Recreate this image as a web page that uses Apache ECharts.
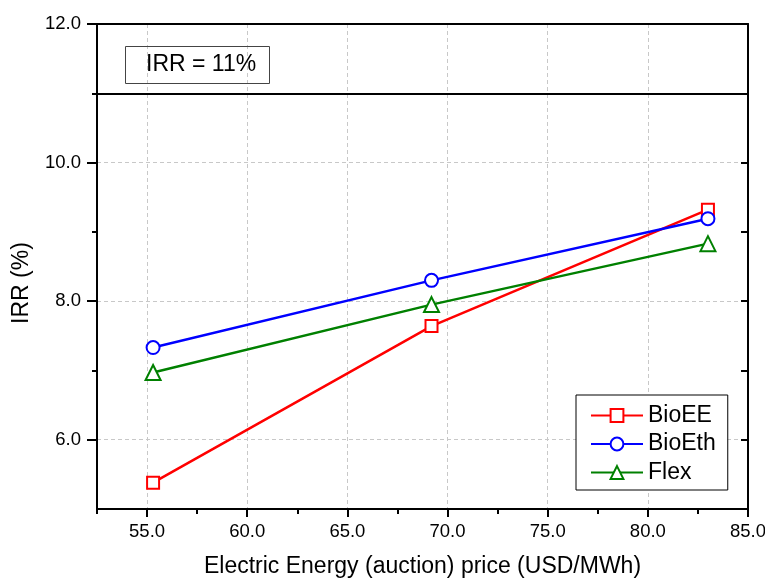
<!DOCTYPE html>
<html>
<head>
<meta charset="utf-8">
<script src="https://cdn.jsdelivr.net/npm/echarts@6/dist/echarts.min.js"></script>
<style>
  html, body { margin: 0; padding: 0; background: #fff; }
  #chart { width: 765px; height: 579px; }
</style>
</head>
<body>
<div id="chart"></div>
<script>
// data
const priceX = [55.3, 69.2, 83.0];
const bioEE = [5.38, 7.64, 9.32];
const bioEth = [7.33, 8.30, 9.19];
const flex = [6.97, 7.95, 8.83];
const irrTarget = 11;

// tick values
const xMajor = [55, 60, 65, 70, 75, 80, 85];
const xMinor = [52.5, 57.5, 62.5, 67.5, 72.5, 77.5, 82.5];
const yMajor = [6, 8, 10, 12];
const yMinor = [7, 9, 11];

const FONT = 'Liberation Sans';

function pairs(ys) {
  return priceX.map((x, i) => [x, ys[i]]);
}

const chart = echarts.init(document.getElementById('chart'));

const axisLine = { show: true, lineStyle: { color: '#000', width: 2 } };
const dashed = { show: true, lineStyle: { color: '#c8c8c8', type: [4, 3], width: 1 } };

const option = {
  animation: false,
  title: {
    text: 'IRR = 11%',
    left: 125,
    top: 46,
    padding: [7, 14, 8, 21],
    borderColor: '#444',
    borderWidth: 1,
    textStyle: { fontFamily: FONT, fontSize: 23, fontWeight: 'normal', color: '#000' }
  },
  legend: {
    orient: 'vertical',
    left: 576,
    top: 395,
    padding: [9, 12, 6, 14],
    itemWidth: 52,
    itemHeight: 16,
    itemGap: 5.5,
    borderColor: '#000',
    borderWidth: 1,
    backgroundColor: '#fff',
    textStyle: { fontFamily: FONT, fontSize: 23, color: '#000' },
    data: ['BioEE', 'BioEth', 'Flex']
  },
  grid: { left: 97, right: 17, top: 24, bottom: 70, outerBoundsMode: 'none' },
  xAxis: [
    {
      type: 'value', position: 'bottom', min: 52.5, max: 85, interval: 2.5,
      name: 'Electric Energy (auction) price (USD/MWh)',
      nameLocation: 'middle', nameGap: 46,
      nameTextStyle: { fontFamily: FONT, fontSize: 23, color: '#000' },
      axisLine: axisLine,
      axisTick: { show: true, customValues: xMajor, length: 8, lineStyle: { color: '#000', width: 2 } },
      axisLabel: {
        customValues: xMajor, margin: 13,
        fontFamily: FONT, fontSize: 18.5, color: '#000',
        formatter: v => v.toFixed(1)
      },
      splitLine: dashed
    },
    {
      type: 'value', position: 'bottom', min: 52.5, max: 85, interval: 2.5,
      axisLine: axisLine,
      axisTick: { show: true, customValues: xMinor, length: 5, lineStyle: { color: '#000', width: 2 } },
      axisLabel: { show: false },
      splitLine: { show: false }
    },
    {
      type: 'value', position: 'top', min: 52.5, max: 85, interval: 2.5,
      axisLine: axisLine,
      axisTick: { show: false },
      axisLabel: { show: false },
      splitLine: { show: false }
    }
  ],
  yAxis: [
    {
      type: 'value', position: 'left', min: 5, max: 12, interval: 1,
      name: 'IRR (%)',
      nameLocation: 'middle', nameGap: 64, nameRotate: 90,
      nameTextStyle: { fontFamily: FONT, fontSize: 23, color: '#000', padding: [0, 33, 0, 0] },
      axisLine: axisLine,
      axisTick: { show: true, customValues: yMajor, length: 10, lineStyle: { color: '#000', width: 2 } },
      axisLabel: {
        customValues: yMajor, margin: 16,
        fontFamily: FONT, fontSize: 18.5, color: '#000',
        formatter: v => v.toFixed(1)
      },
      splitLine: dashed
    },
    {
      type: 'value', position: 'left', min: 5, max: 12, interval: 1,
      axisLine: axisLine,
      axisTick: { show: true, customValues: yMinor, length: 5, lineStyle: { color: '#000', width: 2 } },
      axisLabel: { show: false },
      splitLine: { show: false }
    },
    {
      type: 'value', position: 'right', min: 5, max: 12, interval: 1,
      axisLine: axisLine,
      axisTick: { show: true, inside: true, length: 7, lineStyle: { color: '#000', width: 2 } },
      axisLabel: { show: false },
      splitLine: { show: false }
    }
  ],
  series: [
    {
      name: 'BioEE', type: 'line', data: pairs(bioEE),
      symbol: 'emptyRect', symbolSize: 12,
      color: '#ff0000',
      lineStyle: { width: 2.5 },
      itemStyle: { borderWidth: 2 },
      markLine: {
        silent: true, symbol: 'none',
        label: { show: false },
        lineStyle: { color: '#000', width: 2, type: 'solid' },
        data: [{ yAxis: irrTarget }]
      }
    },
    {
      name: 'BioEth', type: 'line', data: pairs(bioEth),
      symbol: 'emptyCircle', symbolSize: 13,
      color: '#0000ff',
      lineStyle: { width: 2.5 },
      itemStyle: { borderWidth: 2 }
    },
    {
      name: 'Flex', type: 'line', data: pairs(flex),
      symbol: 'emptyTriangle', symbolSize: 15,
      color: '#008000',
      lineStyle: { width: 2.5 },
      itemStyle: { borderWidth: 2 }
    }
  ]
};

chart.setOption(option);
</script>
</body>
</html>
